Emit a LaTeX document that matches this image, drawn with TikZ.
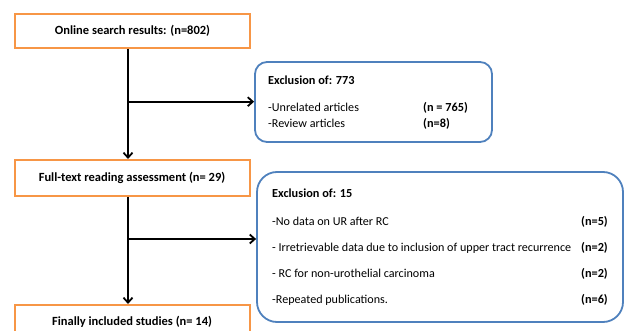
\documentclass[tikz,border=0pt]{standalone}
\usepackage{fontspec}
\setmainfont{Carlito}
\usetikzlibrary{arrows.meta}
\definecolor{boxorange}{HTML}{F79646}
\definecolor{boxblue}{HTML}{4F81BD}
\begin{document}
\begin{tikzpicture}[x=1pt,y=-1pt,
  stagebox/.style={draw=boxorange,line width=2pt,fill=white,minimum width=235pt,font=\fontsize{12.5}{14}\selectfont\bfseries,inner sep=0pt},
  exbox/.style={draw=boxblue,line width=1.8pt,fill=white,inner sep=0pt},
  txt/.style={anchor=base west,inner sep=0pt,font=\fontsize{12.1}{14}\selectfont},
  num/.style={anchor=base west,inner sep=0pt,font=\fontsize{12.3}{14}\selectfont\bfseries},
  numr/.style={anchor=base east,inner sep=0pt,font=\fontsize{12.3}{14}\selectfont\bfseries},
  flow/.style={line width=2pt,-{Straight Barb[length=5pt,width=9pt,line width=1.8pt]}}]
\useasboundingbox (0,0) rectangle (626,331);
\clip (0,0) rectangle (626,331);
% stage boxes
\node[stagebox,minimum height=34pt] (b1) at (132.5,31) {Online search results: (n=802)};
\node[stagebox,minimum height=36pt] (b2) at (132,178) {\raisebox{2pt}{Full-text reading assessment (n= 29)}};
\node[stagebox,minimum height=34pt] (b3) at (132,322) {\raisebox{1pt}{Finally included studies (n= 14)}};
% exclusion boxes
\node[exbox,rounded corners=12pt,minimum width=237pt,minimum height=80pt] (e1) at (373.5,102) {};
\node[exbox,rounded corners=20pt,minimum width=366pt,minimum height=150pt] (e2) at (440,247) {};
% texts in exclusion 1
\node[num] (e1t) at (268,85) {Exclusion of: 773};
\node[txt] (e1a) at (268,112) {-Unrelated articles};
\node[txt] (e1b) at (268,127.5) {-Review articles};
\node[num] (e1an) at (423,112) {(n = 765)};
\node[num] (e1bn) at (423,127.5) {(n=8)};
% texts in exclusion 2
\node[num] (e2t) at (272,197) {Exclusion of: 15};
\node[txt] (e2a) at (272,225) {-No data on UR after RC};
\node[txt] (e2b) at (272,251) {- Irretrievable data due to inclusion of upper tract recurrence};
\node[txt] (e2c) at (272,277) {- RC for non-urothelial carcinoma};
\node[txt] (e2d) at (272,303) {-Repeated publications.};
\node[numr] (e2an) at (608,225) {(n=5)};
\node[numr] (e2bn) at (608,251) {(n=2)};
\node[numr] (e2cn) at (608,277) {(n=2)};
\node[numr] (e2dn) at (608,303) {(n=6)};
% connectors
\coordinate (j1) at (128,101.7);
\coordinate (j2) at (128,239);
\draw[flow] (j1 |- b1.south) -- (j1 |- b2.north);
\draw[flow] (j1) -- (e1.west |- j1);
\draw[flow] (j2 |- b2.south) -- (j2 |- b3.north);
\draw[flow] (j2) -- (e2.west |- j2);
\end{tikzpicture}
\end{document}
